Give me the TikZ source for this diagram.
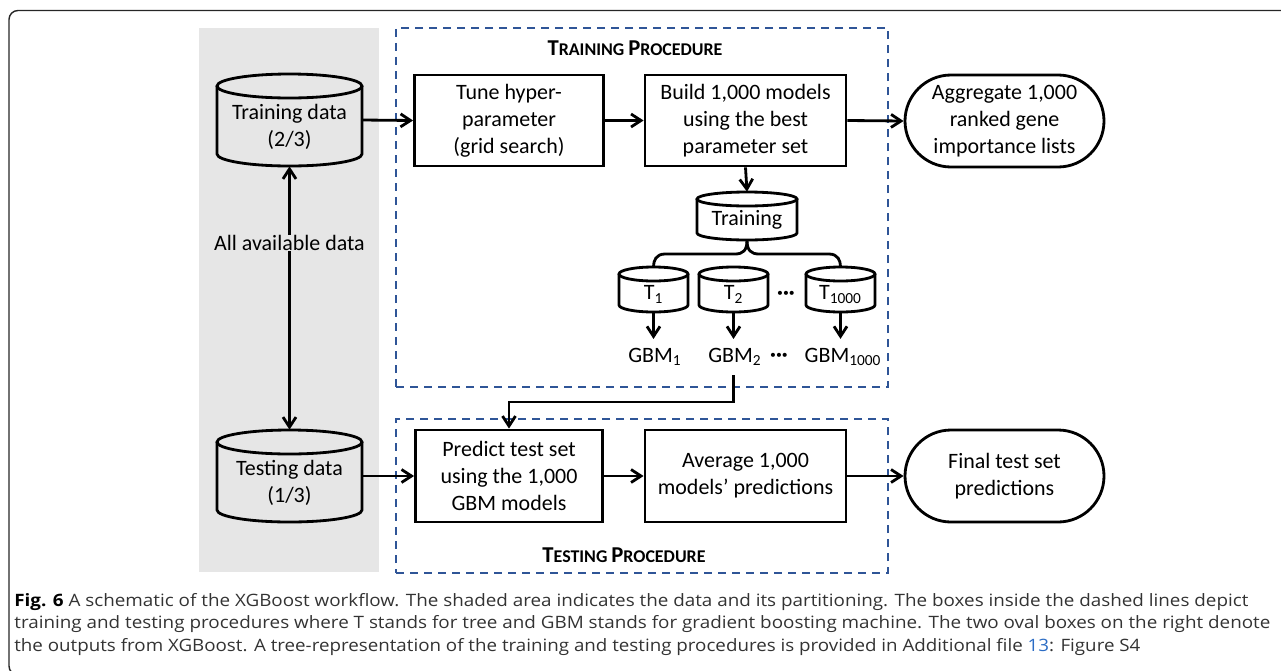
\documentclass[tikz,border=0pt]{standalone}
\usepackage{fontspec}
\usepackage{graphicx}
\setmainfont{Carlito}
\newfontfamily\capfamily{Open Sans}
\usetikzlibrary{arrows.meta,shapes.misc,calc}
\newdimen\pxu \pxu=0.02cm
\definecolor{dashblue}{HTML}{2F5597}
\definecolor{shadegray}{HTML}{E6E6E6}
\definecolor{captxt}{HTML}{333333}
\definecolor{linkblue}{HTML}{2B6CC4}
\newcommand{\dfont}{\fontsize{12.5}{15.4}\selectfont}
\newcommand{\capfont}{\capfamily\fontsize{9.7}{12.8}\selectfont}
\newcommand{\fsc}[2]{{\fontsize{12.9}{15}\selectfont #1}{\fontsize{10.2}{12}\selectfont #2}}
\newcommand{\capline}[2]{\resizebox{#1\pxu}{\height}{#2}}
\newcommand{\cylshape}[5]{%
  \draw[lineblk] ({(#1+#3)/2},{#2+#5}) ellipse [x radius={(#3-#1)/2}, y radius=#5];
  \draw[lineblk] (#1,{#2+#5}) -- (#1,{#4-#5}) arc[start angle=180, end angle=0, x radius={(#3-#1)/2}, y radius=#5] -- (#3,{#2+#5});
}
\begin{document}
\begin{tikzpicture}[x=0.02cm,y=-0.02cm,
  lineblk/.style={line width=1.6pt, black},
  arr/.style={line width=1.6pt, -{Straight Barb[length=0.2cm,width=0.26cm]}},
  box/.style={draw, line width=1.6pt, align=center, font=\dfont, inner sep=0pt},
  oval/.style={rounded rectangle, draw, line width=1.6pt, align=center, font=\dfont, inner sep=0pt},
  cylbox/.style={inner sep=0pt},
  dashbox/.style={draw=dashblue, line width=1.1pt, dash pattern=on 8\pxu off 6\pxu, inner sep=0pt},
  lbl/.style={font=\dfont, inner sep=0pt},
  gbm/.style={font=\dfont, inner xsep=1pt, inner ysep=9\pxu},
  proc/.style={font=\bfseries, inner sep=0pt},
  captext/.style={font=\capfont, text=captxt, inner sep=0pt, anchor=base west}
]
\path[use as bounding box] (0,0) rectangle (1281,670);
\clip (0,0) rectangle (1281,670);

% outer frame
\draw[line width=0.8pt, black!85, rounded corners=9\pxu] (9,10.5) rectangle (1310,675);

% shaded data area
\fill[shadegray] (199,28) rectangle (379,572);

% dashed procedure boxes
\node[dashbox, minimum width=492\pxu, minimum height=359\pxu] (trainproc) at (642,207.5) {};
\node[dashbox, minimum width=492\pxu, minimum height=154\pxu] (testproc) at (642,496) {};
\node[proc] (trainlbl) at (635,48) {\fsc{T}{RAINING} \fsc{P}{ROCEDURE}};
\node[proc] (testlbl) at (624,555) {\fsc{T}{ESTING} \fsc{P}{ROCEDURE}};

% data cylinders
\node[cylbox, minimum width=145\pxu, minimum height=92\pxu,
  label={[lbl, align=center, yshift=-7\pxu]center:Training data\\(2/3)}] (trd) at (289.5,120) {};
\cylshape{217}{74}{362}{166}{12}
\node[cylbox, minimum width=145\pxu, minimum height=92\pxu,
  label={[lbl, align=center, yshift=-7\pxu]center:Testing data\\(1/3)}] (ted) at (289.5,476) {};
\cylshape{217}{430}{362}{522}{12}

\node[lbl] (all) at (289.5,243) {All available data};

% top row
\node[box, minimum width=189\pxu, minimum height=91\pxu] (tune) at (509,120.5) {Tune hyper-\\parameter\\(grid search)};
\node[box, minimum width=201\pxu, minimum height=91\pxu] (build) at (745.5,120.5) {Build 1,000 models\\using the best\\parameter set};
\node[oval, minimum width=199\pxu, minimum height=92\pxu] (agg) at (1004.5,121) {Aggregate 1,000\\ranked gene\\importance lists};

% training cylinder and trees
\node[cylbox, minimum width=100\pxu, minimum height=48\pxu,
  label={[lbl, yshift=-4\pxu]center:Training}] (trn) at (747,216) {};
\cylshape{697}{192}{797}{240}{7}
\node[cylbox, minimum width=69\pxu, minimum height=45\pxu,
  label={[lbl, yshift=-5\pxu]center:T\textsubscript{1}}] (t1) at (653.5,289.5) {};
\cylshape{619}{267}{688}{312}{7}
\node[cylbox, minimum width=69\pxu, minimum height=45\pxu,
  label={[lbl, yshift=-5\pxu]center:T\textsubscript{2}}] (t2) at (733.5,289.5) {};
\cylshape{699}{267}{768}{312}{7}
\node[cylbox, minimum width=69\pxu, minimum height=45\pxu,
  label={[lbl, yshift=-5\pxu]center:T\textsubscript{1000}}] (t1000) at (840.5,289.5) {};
\cylshape{806}{267}{875}{312}{7}
\node[lbl, font=\dfont\bfseries] (tdots) at (786,295) {···};

\node[gbm] (gbm1) at (655,357) {GBM\textsubscript{1}};
\node[gbm] (gbm2) at (735,357) {GBM\textsubscript{2}};
\node[gbm] (gbm1000) at (843,357) {GBM\textsubscript{1000}};
\node[lbl, font=\dfont\bfseries] (gdots) at (779,357) {···};

% bottom row
\node[box, minimum width=187\pxu, minimum height=92\pxu] (pred) at (509,476) {Predict test set\\using the 1,000\\GBM models};
\node[box, minimum width=201\pxu, minimum height=92\pxu] (avg) at (745.5,476) {Average 1,000\\models’ predictions};
\node[oval, minimum width=199\pxu, minimum height=92\pxu] (final) at (1004.5,476) {Final test set\\predictions};

% connectors
\draw[arr] (trd.east) -- (tune.west);
\draw[arr] (tune.east) -- (build.west);
\draw[arr] (build.east) -- (agg.west);
\draw[arr] (all.north) -- (trd.south);
\draw[arr] (all.south) -- (ted.north);
\draw[arr] (build.south) -- (trn.north);
\draw[lineblk] (trn.south) .. controls +(0,10) and +(8,0) .. (735,254) -- (665,254) .. controls +(-9,0) and +(0,-6) .. (t1.north);
\draw[lineblk] (trn.south) .. controls +(0,10) and +(-8,0) .. (759,254) -- (829,254) .. controls +(9,0) and +(0,-6) .. (t1000.north);
\draw[arr] (t1.south) -- (t1.south |- gbm1.north);
\draw[arr] (t2.south) -- (t2.south |- gbm2.north);
\draw[arr] (t1000.south) -- (t1000.south |- gbm1000.north);
\coordinate (elb) at (509,402);
\draw[arr] (gbm2.south -| t2.south) |- (elb) -- (pred.north);
\draw[arr] (ted.east) -- (pred.west);
\draw[arr] (pred.east) -- (avg.west);
\draw[arr] (avg.east) -- (final.west);

% caption
\node[captext] (cap1) at (14,606) {\capline{1234}{{\bfseries\color{black}Fig. 6} A schematic of the XGBoost workflow. The shaded area indicates the data and its partitioning. The boxes inside the dashed lines depict}};
\node[captext] (cap2) at (14,628) {\capline{1256}{training and testing procedures where T stands for tree and GBM stands for gradient boosting machine. The two oval boxes on the right denote}};
\node[captext] (cap3) at (14,651) {\capline{1126}{the outputs from XGBoost. A tree-representation of the training and testing procedures is provided in Additional file {\color{linkblue}13}: Figure S4}};
\end{tikzpicture}
\end{document}
